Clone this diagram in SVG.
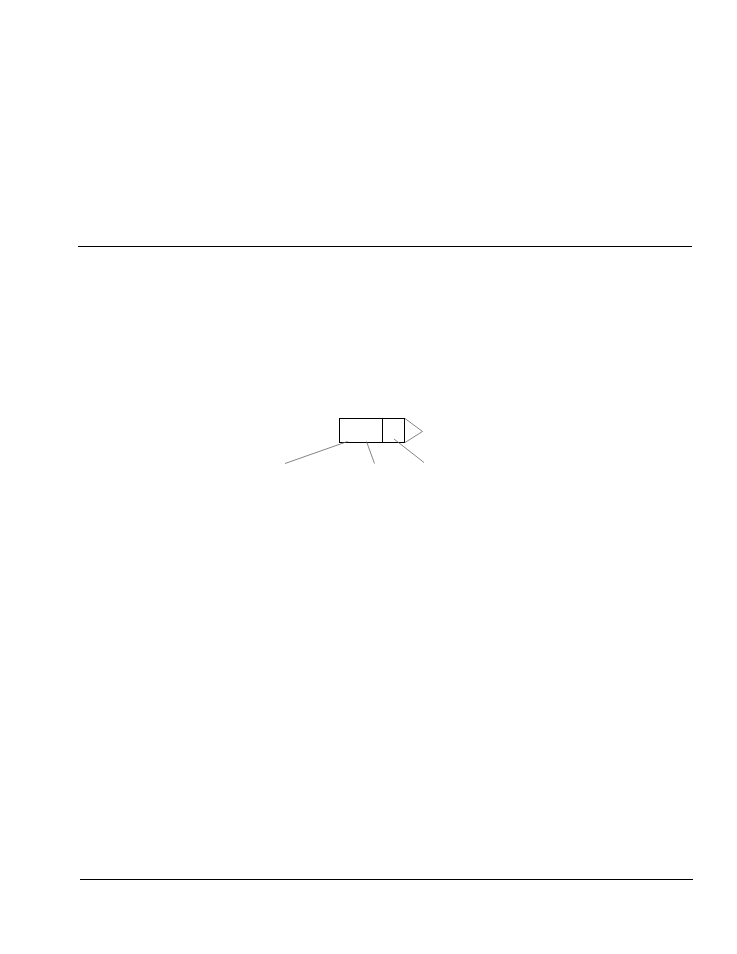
<svg xmlns="http://www.w3.org/2000/svg" width="737" height="954" viewBox="0 0 737 954">
<style>
.rule{stroke:#000;stroke-width:1;fill:none}
.box{stroke:#000;stroke-width:1;fill:none}
.lead{stroke:#666;stroke-width:0.8;fill:none}
</style>
<rect width="737" height="954" fill="#fff"/>
<line class="rule" x1="78" y1="246.5" x2="692" y2="246.5"/>
<line class="rule" x1="80" y1="879.5" x2="693" y2="879.5"/>
<g id="node-box">
<rect class="box" x="339.5" y="418.5" width="43" height="24"/>
<rect class="box" x="382.5" y="418.5" width="22" height="24"/>
<polyline class="lead" points="405,418.5 422.5,431.5 405,442.5"/>
</g>
<g id="connectors">
<line class="lead" x1="285" y1="463.5" x2="347.5" y2="441.5"/>
<line class="lead" x1="366.5" y1="441.5" x2="374.5" y2="463.5"/>
<line class="lead" x1="394" y1="439" x2="424" y2="462.5"/>
</g>
</svg>
